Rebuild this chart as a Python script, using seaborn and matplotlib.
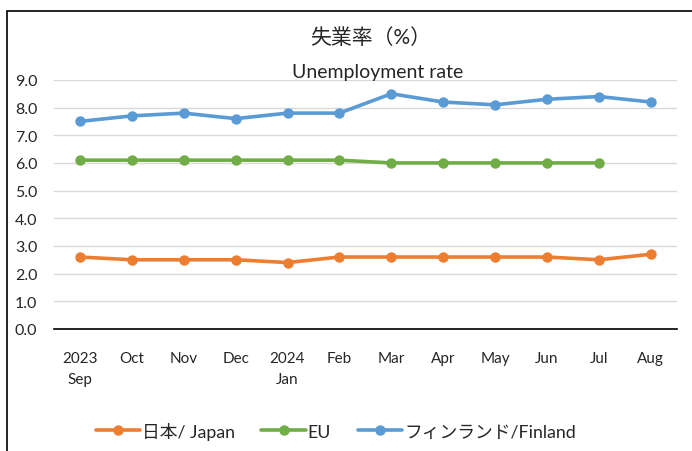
import pandas as pd
import matplotlib.pyplot as plt
import matplotlib.patches as mpatches
import seaborn as sns

# データ
months = ["2023\nSep", "Oct", "Nov", "Dec", "2024\nJan", "Feb",
          "Mar", "Apr", "May", "Jun", "Jul", "Aug"]
japan = [2.6, 2.5, 2.5, 2.5, 2.4, 2.6, 2.6, 2.6, 2.6, 2.6, 2.5, 2.7]
eu = [6.1, 6.1, 6.1, 6.1, 6.1, 6.1, 6.0, 6.0, 6.0, 6.0, 6.0, None]
finland = [7.5, 7.7, 7.8, 7.6, 7.8, 7.8, 8.5, 8.2, 8.1, 8.3, 8.4, 8.2]

series = ["日本/ Japan", "EU", "フィンランド/Finland"]
colors = {"日本/ Japan": "#ED7D31", "EU": "#70AD47", "フィンランド/Finland": "#5B9BD5"}

rows = []
for name, vals in zip(series, [japan, eu, finland]):
    for m, v in zip(months, vals):
        if v is not None:
            rows.append({"month": m, "rate": v, "series": name})
df = pd.DataFrame(rows)

sns.set_style("white")
plt.rcParams["font.family"] = ["Lato", "Noto Sans CJK JP", "DejaVu Sans"]

fig = plt.figure(figsize=(6.92, 4.52), dpi=100)
ax = fig.add_axes([0.078, 0.270, 0.900, 0.551])

for name in series:
    sub = df[df["series"] == name]
    sns.lineplot(data=sub, x="month", y="rate", color=colors[name], ax=ax,
                 linewidth=2.6, marker="o", markersize=7.5,
                 markeredgewidth=0, label=name, sort=False)

ax.set_xlim(-0.5, len(months) - 0.5)
ax.set_ylim(0, 9)
ax.set_yticks([i for i in range(10)])
ax.set_yticklabels([f"{i:.1f}" for i in range(10)], fontsize=11.5)
ax.set_xticks(range(len(months)))
ax.set_xticklabels(months, fontsize=11, linespacing=1.6)
ax.tick_params(axis="both", length=0)
ax.tick_params(axis="x", pad=16)
ax.tick_params(axis="y", pad=12)
ax.grid(axis="y", color="#D9D9D9", linewidth=1)
ax.set_axisbelow(True)
for s in ["left", "right", "top"]:
    ax.spines[s].set_visible(False)
ax.spines["bottom"].set_color("black")
ax.spines["bottom"].set_linewidth(1.2)
ax.set_xlabel("")
ax.set_ylabel("")

fig.text(0.536, 0.916, "失業率（%）", ha="center", va="center", fontsize=15)
fig.text(0.545, 0.840, "Unemployment rate", ha="center", va="center", fontsize=14)

handles, labels = ax.get_legend_handles_labels()
ax.legend(handles, labels, loc="center", bbox_to_anchor=(0.485, 0.045),
          bbox_transform=fig.transFigure, ncol=3, frameon=False,
          fontsize=12.8, handlelength=2.5, handletextpad=0.1, columnspacing=1.5)

# グラフ外枠
fig.patches.append(mpatches.Rectangle((7 / 692, -0.5), 2, 0.5 + 1 - 12 / 452,
                                      transform=fig.transFigure, fill=False,
                                      edgecolor="black", linewidth=1.2))

fig.savefig("out.png", dpi=100)
